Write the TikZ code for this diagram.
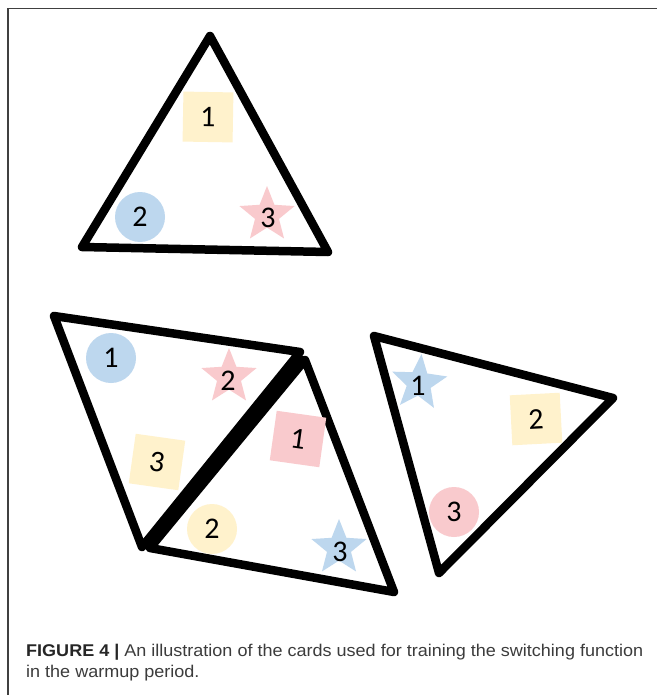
\documentclass[tikz,border=0pt]{standalone}
\usepackage{fontspec}
\setmainfont{Carlito}
\newfontfamily\capfont[FakeStretch=1.06]{Liberation Sans}
\usetikzlibrary{shapes.geometric,calc}
\definecolor{cyel}{HTML}{FFF2CC}
\definecolor{cblue}{HTML}{BDD7EE}
\definecolor{cpink}{HTML}{F9CACD}
\definecolor{cframe}{HTML}{404040}
\definecolor{ctext}{HTML}{3C3C3C}
\tikzset{
  card/.style={draw=black, line width=8.5pt, line join=round},
  dig/.style={inner sep=0pt, font=\fontsize{30}{36}\selectfont, text=black},
  sqbox/.style={dig, rectangle, minimum size=50pt},
  circbox/.style={dig, circle, minimum size=50pt},
  starbox/.style={dig, star, star points=5, star point ratio=2.3, minimum size=58pt},
  captext/.style={anchor=base west, inner sep=0pt, text=ctext, font=\capfont\fontsize{17}{21}\selectfont}
}
\begin{document}
\begin{tikzpicture}[x=1pt,y=-1pt]
\useasboundingbox (0,0) rectangle (657,695);
\fill[white] (0,0) rectangle (657,695);
\draw[cframe, line width=1.3pt] (8,695) -- (8,8.5) -- (657,8.5);

% top card
\coordinate (ta) at (210,36);
\coordinate (tb) at (82,247);
\coordinate (tc) at (328,252);
\draw[card] (ta) -- (tb) -- (tc) -- cycle;
\node[sqbox, fill=cyel, rotate=-1] (t1) at (208,117) {1};
\node[circbox, fill=cblue] (t2) at (140,217) {2};
\node[starbox, fill=cpink] (t3) at (267,215) {};
\node[dig] (t3l) at (268,218) {3};

% lower left card
\coordinate (la) at (54,316);
\coordinate (lb) at (300,352);
\coordinate (lc) at (142,547);
\draw[card] (la) -- (lb) -- (lc) -- cycle;
\node[circbox, fill=cblue] (l1) at (111,358) {1};
\node[starbox, fill=cpink] (l2) at (229,377) {};
\node[dig] (l2l) at (228,381) {2};
\node[sqbox, fill=cyel, rotate=-8] (l3) at (157,462) {3};

% lower middle card
\coordinate (ma) at (305,360);
\coordinate (mb) at (394,592);
\coordinate (mc) at (150,548);
\draw[card] (ma) -- (mb) -- (mc) -- cycle;
\node[sqbox, fill=cpink, rotate=-8] (m1) at (298,439) {1};
\node[circbox, fill=cyel] (m2) at (212,529) {2};
\node[starbox, fill=cblue] (m3) at (339,548) {};
\node[dig] (m3l) at (340,552) {3};

% joined edge of the two cards
\draw[line width=10pt] ($(lb)!0.5!(ma)$) -- ($(lc)!0.5!(mc)$);

% right card
\coordinate (ra) at (374,336);
\coordinate (rb) at (613,398);
\coordinate (rc) at (439,573);
\draw[card] (ra) -- (rb) -- (rc) -- cycle;
\node[starbox, fill=cblue, rotate=-5] (r1) at (419,383) {};
\node[dig] (r1l) at (418,386) {1};
\node[sqbox, fill=cyel, rotate=3] (r2) at (536,419) {2};
\node[circbox, fill=cpink] (r3) at (454,512) {3};

% caption
\node[captext] (cap1) at (26,656) {{\bfseries\color{black!85}FIGURE 4 |} An illustration of the cards used for training the switching function};
\node[captext] (cap2) at (26,677) {in the warmup period.};
\end{tikzpicture}
\end{document}
